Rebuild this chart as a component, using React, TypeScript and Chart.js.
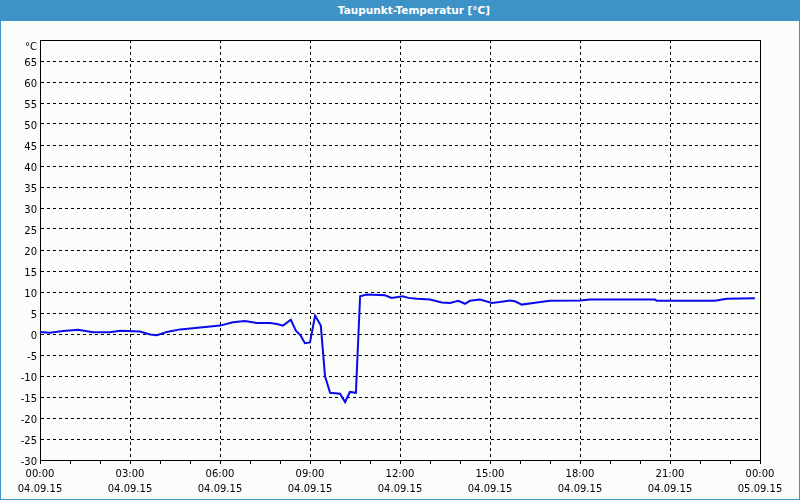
import React, { useEffect, useRef } from "react";
import { Chart, registerables } from "chart.js";

Chart.register(...registerables);

const TITLE = "Taupunkt-Temperatur [°C]";
const hours = [
  0, 0.33, 0.77, 1.27, 1.77, 2.33, 2.67, 3.33, 3.67, 3.9, 4.23, 4.67, 5.43, 6.0, 6.43, 6.83, 7.23, 7.67, 7.9, 8.1,
  8.36, 8.53, 8.69, 8.83, 9.0, 9.17, 9.36, 9.5, 9.67, 10.0, 10.17, 10.33, 10.53, 10.67, 10.89, 11.5, 11.72, 12.09,
  12.28, 12.56, 13.0, 13.39, 13.67, 13.94, 14.17, 14.33, 14.67, 15.06, 15.33, 15.67, 15.83, 16.06, 16.44, 17.0,
  18.0, 18.33, 18.89, 20.5, 20.56, 22.5, 22.89, 23.83,
];
const dewPoint = [
  0.5, 0.3, 0.7, 1.0, 0.4, 0.4, 0.8, 0.6, -0.1, -0.3, 0.5, 1.1, 1.6, 2.0, 2.8, 3.1, 2.6, 2.6, 2.4, 2.0,
  3.4, 0.8, -0.4, -2.2, -2.0, 4.4, 2.0, -10, -14, -14.2, -16.2, -13.8, -14, 9.0, 9.4, 9.2, 8.6, 9.0,
  8.6, 8.4, 8.2, 7.5, 7.4, 7.9, 7.2, 7.9, 8.2, 7.4, 7.6, 8.0, 7.8, 7.0, 7.4, 7.9,
  8.0, 8.2, 8.2, 8.2, 7.9, 7.9, 8.4, 8.5,
];
const timeLabels = ["00:00", "03:00", "06:00", "09:00", "12:00", "15:00", "18:00", "21:00", "00:00"];
const dateLabels = ["04.09.15", "04.09.15", "04.09.15", "04.09.15", "04.09.15", "04.09.15", "04.09.15", "04.09.15", "05.09.15"];
const unitLabel = "°C";
const yMin = -30;
const yMax = 70;

const FONT = "'DejaVu Sans', Tahoma, sans-serif";

const framePlugin = {
  id: "frame",
  beforeDatasetsDraw(chart: any) {
    const { ctx, chartArea } = chart;
    ctx.save();
    ctx.strokeStyle = "#000";
    ctx.lineWidth = 1;
    ctx.strokeRect(
      Math.round(chartArea.left) + 0.5,
      Math.round(chartArea.top) + 0.5,
      Math.round(chartArea.right - chartArea.left),
      Math.round(chartArea.bottom - chartArea.top)
    );
    ctx.restore();
  },
};

export default function App() {
  const ref = useRef<HTMLCanvasElement>(null);

  useEffect(() => {
    document.body.style.margin = "0";
    const canvas = ref.current;
    if (!canvas) return;
    const chart = new Chart(canvas, {
      type: "line",
      data: {
        datasets: [
          {
            data: hours.map((h, i) => ({ x: h, y: dewPoint[i] })),
            borderColor: "#0a0aec",
            borderWidth: 2,
            pointRadius: 0,
            tension: 0,
            fill: false,
          },
        ],
      },
      options: {
        animation: false,
        responsive: false,
        maintainAspectRatio: false,
        layout: { padding: { top: 40, right: 40, left: 0, bottom: 0 } },
        plugins: { legend: { display: false }, tooltip: { enabled: false }, title: { display: false } },
        scales: {
          x: {
            type: "linear",
            min: 0,
            max: 24,
            afterFit: (s: any) => {
              s.height = 40;
            },
            grid: {
              color: (c: any) => {
                const v = c.tick ? c.tick.value : 0;
                return v % 3 === 0 && v > 0 && v < 24 ? "#000" : "rgba(0,0,0,0)";
              },
              tickColor: "#000",
              tickLength: 4,
              lineWidth: 1,
            },
            border: { display: true, color: "#000", width: 1, dash: [3, 3] },
            ticks: {
              stepSize: 1,
              autoSkip: false,
              maxRotation: 0,
              minRotation: 0,
              padding: 3,
              color: "#000",
              font: { family: FONT, size: 10, lineHeight: "15px" },
              callback: (v: any) => {
                const n = Number(v);
                if (n % 3 !== 0) return "";
                const i = n / 3;
                return [timeLabels[i], dateLabels[i]];
              },
            },
          },
          y: {
            min: yMin,
            max: yMax,
            afterFit: (s: any) => {
              s.width = 40;
            },
            grid: {
              color: (c: any) => {
                const v = c.tick ? c.tick.value : 0;
                return v > yMin && v < yMax ? "#000" : "rgba(0,0,0,0)";
              },
              drawTicks: false,
              lineWidth: 1,
            },
            border: { display: true, color: "#000", width: 1, dash: [3, 3] },
            ticks: {
              stepSize: 5,
              autoSkip: false,
              padding: 3,
              labelOffset: 2,
              color: "#000",
              font: { family: FONT, size: 10, lineHeight: "10px" },
              callback: (v: any) => (Number(v) === yMax ? ["", unitLabel] : String(v)),
            },
          },
        },
      },
      plugins: [framePlugin],
    });
    return () => chart.destroy();
  }, []);

  return (
    <div
      style={{
        position: "relative",
        width: 800,
        height: 500,
        background: "#fbfdfb",
        boxSizing: "border-box",
        border: "1px solid #3d93c6",
        borderTop: "none",
        overflow: "hidden",
      }}
    >
      <div
        style={{
          position: "absolute",
          left: -1,
          top: 0,
          width: 800,
          height: 21,
          background: "#3d93c6",
          color: "#fff",
          fontFamily: FONT,
          fontWeight: "bold",
          fontSize: 10.5,
          lineHeight: "21px",
          textAlign: "center",
          paddingLeft: 28,
          boxSizing: "border-box",
        }}
      >
        {TITLE}
      </div>
      <canvas
        ref={ref}
        width={800}
        height={500}
        style={{ position: "absolute", left: -1, top: 0, width: 800, height: 500 }}
      />
    </div>
  );
}
